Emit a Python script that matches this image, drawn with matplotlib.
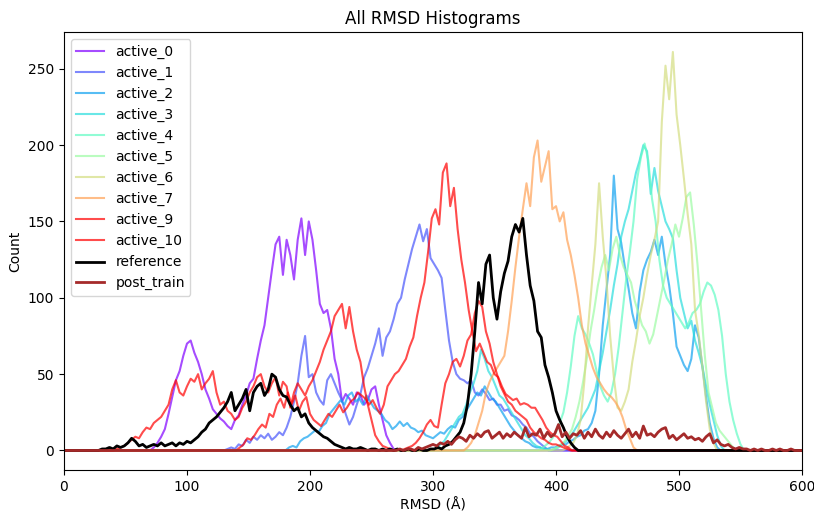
import numpy as np
import matplotlib
matplotlib.use("Agg")
import matplotlib.pyplot as plt

# bin spacing (Å) used to read the curves
STEP = 3

# first RMSD value (Å) of each series, counts read at STEP spacing
active_0_start = 70
active_0 = [0, 2, 5, 9, 14, 24, 35, 46, 52, 62, 70, 72, 64, 58, 50, 40, 34, 27, 24, 21,
            19, 16, 14, 20, 23, 30, 36, 44, 47, 60, 72, 82, 100, 118, 135, 140, 115, 138, 128, 112,
            138, 152, 128, 150, 138, 118, 96, 90, 92, 80, 60, 50, 32, 37, 34, 30, 38, 36, 30, 33,
            40, 42, 30, 20, 10, 5, 1, 0]

active_1_start = 130
active_1 = [0, 1, 2, 1, 4, 3, 7, 5, 9, 7, 10, 8, 11, 7, 9, 12, 10, 15, 22, 32,
            44, 62, 75, 48, 50, 38, 33, 30, 46, 50, 44, 38, 33, 24, 17, 22, 30, 37, 48, 54,
            62, 70, 80, 62, 74, 78, 86, 96, 100, 112, 122, 132, 140, 148, 137, 145, 126, 122, 118, 113,
            92, 72, 58, 50, 47, 46, 44, 46, 38, 36, 40, 37, 33, 34, 30, 30, 26, 27, 23, 22,
            20, 17, 15, 11, 9, 6, 4, 2, 0]

active_2_start = 180
active_2 = [0, 2, 3, 2, 6, 8, 9, 11, 13, 12, 16, 18, 24, 27, 30, 33, 30, 36, 38, 32,
            34, 30, 36, 32, 28, 26, 24, 20, 18, 14, 16, 19, 16, 18, 15, 14, 12, 13, 10, 9,
            8, 10, 12, 11, 14, 16, 15, 20, 22, 26, 30, 34, 38, 36, 42, 38, 34, 32, 28, 24,
            20, 16, 13, 10, 8, 6, 5, 3, 2, 2, 1, 1, 2, 2, 3, 4, 4, 6, 7, 9,
            10, 13, 14, 18, 26, 50, 82, 105, 128, 180, 145, 136, 120, 106, 90, 80, 104, 118, 125, 130,
            138, 128, 140, 122, 108, 90, 68, 62, 56, 52, 60, 82, 74, 55, 35, 18, 8, 2, 0]

active_3_start = 300
active_3 = [0, 2, 4, 6, 10, 14, 18, 22, 24, 30, 38, 44, 52, 66, 60, 52, 48, 42, 36, 34,
            30, 26, 22, 18, 14, 10, 8, 5, 3, 2, 1, 1, 0, 1, 2, 4, 6, 9, 12, 16,
            20, 24, 28, 34, 40, 52, 64, 78, 92, 108, 122, 140, 150, 158, 170, 182, 190, 200, 196, 168,
            185, 170, 160, 150, 145, 139, 118, 100, 90, 80, 85, 72, 64, 55, 42, 30, 20, 10, 3, 0]

active_4_start = 385
active_4 = [0, 1, 3, 5, 8, 12, 18, 25, 38, 55, 75, 88, 80, 76, 70, 63, 52, 42, 36, 32,
            38, 50, 68, 90, 112, 130, 150, 178, 192, 201, 190, 165, 150, 125, 108, 100, 96, 92, 88, 84,
            80, 84, 90, 92, 96, 104, 110, 108, 102, 92, 75, 50, 32, 20, 11, 4, 0]

active_5_start = 395
active_5 = [0, 1, 2, 4, 6, 10, 14, 22, 32, 45, 60, 78, 92, 108, 120, 128, 118, 132, 140, 128,
            120, 115, 110, 98, 90, 82, 78, 70, 76, 88, 100, 112, 125, 135, 148, 140, 152, 166, 169, 148,
            122, 92, 62, 38, 28, 18, 13, 10, 7, 4, 1, 0]

active_6_start = 405
active_6 = [0, 1, 3, 5, 10, 20, 45, 80, 108, 135, 175, 140, 112, 75, 48, 28, 26, 32, 40, 58,
            72, 88, 100, 115, 128, 138, 150, 215, 252, 230, 261, 220, 200, 178, 155, 135, 92, 76, 55, 32,
            14, 5, 0]

active_7_start = 325
active_7 = [0, 2, 5, 10, 18, 26, 38, 45, 50, 54, 58, 62, 78, 98, 120, 140, 158, 175, 160, 192,
            203, 176, 186, 196, 158, 160, 150, 156, 138, 128, 115, 100, 82, 70, 62, 54, 48, 44, 40, 37,
            35, 32, 28, 22, 14, 8, 2, 0]

active_9_start = 40
active_9 = [0, 1, 2, 3, 5, 7, 9, 8, 12, 15, 14, 18, 20, 22, 26, 30, 40, 46, 38, 36,
            42, 47, 45, 50, 40, 44, 47, 52, 38, 30, 32, 26, 24, 20, 22, 28, 32, 38, 42, 48,
            50, 42, 38, 44, 48, 36, 45, 42, 28, 38, 44, 40, 36, 42, 46, 52, 58, 66, 72, 78,
            88, 92, 96, 80, 94, 78, 66, 58, 42, 30, 20, 10, 6, 3, 2, 1, 0, 1, 0, 1,
            2, 3, 5, 8, 12, 17, 20, 16, 15, 30, 44, 50, 58, 60, 55, 62, 72, 76, 90, 98,
            94, 78, 70, 58, 50, 42, 37, 32, 30, 26, 24, 22, 20, 15, 12, 10, 8, 7, 5, 4,
            4, 3, 2, 1, 0]

active_10_start = 140
active_10 = [0, 2, 4, 8, 7, 10, 14, 17, 15, 24, 22, 30, 34, 28, 38, 30, 36, 26, 32, 35,
             24, 20, 18, 16, 20, 24, 22, 26, 30, 25, 28, 32, 34, 38, 36, 34, 30, 33, 28, 24,
             30, 42, 46, 50, 52, 56, 60, 68, 74, 88, 100, 110, 130, 152, 158, 148, 182, 188, 160, 172,
             145, 125, 110, 92, 78, 65, 70, 64, 58, 56, 50, 48, 42, 37, 35, 33, 34, 30, 31, 30,
             28, 28, 24, 20, 15, 12, 10, 9, 6, 3, 2, 0]

reference_start = 28
reference = [0, 1, 1, 2, 1, 3, 2, 3, 5, 8, 6, 3, 4, 2, 3, 4, 3, 5, 3, 4,
             5, 3, 5, 4, 6, 5, 7, 9, 12, 14, 18, 20, 22, 25, 28, 32, 38, 26, 30, 34,
             40, 26, 38, 42, 44, 36, 40, 50, 48, 40, 36, 35, 30, 26, 28, 22, 24, 18, 15, 13,
             11, 9, 8, 6, 4, 3, 2, 1, 2, 1, 1, 2, 1, 0, 1, 1, 0, 1, 0, 1,
             0, 1, 0, 0, 1, 0, 0, 1, 0, 0, 1, 1, 2, 1, 3, 4, 6, 9, 12, 18,
             30, 50, 78, 110, 96, 122, 128, 100, 86, 104, 116, 124, 140, 148, 143, 152, 128, 108, 98, 78,
             74, 56, 48, 38, 26, 20, 15, 9, 5, 2, 0]

post_train_start = 270
post_train = [0, 1, 0, 1, 1, 0, 2, 1, 2, 3, 4, 3, 5, 4, 6, 4, 7, 9, 8, 6,
              10, 8, 11, 9, 12, 13, 8, 10, 12, 8, 11, 9, 12, 10, 8, 15, 9, 11, 10, 14,
              8, 12, 9, 11, 17, 9, 12, 8, 11, 10, 13, 8, 12, 9, 14, 10, 8, 12, 9, 13,
              10, 8, 11, 14, 9, 12, 8, 16, 10, 11, 9, 12, 14, 15, 8, 10, 7, 9, 11, 8,
              9, 7, 8, 6, 9, 11, 5, 7, 4, 3, 4, 2, 1, 2, 1, 1, 0, 1, 0, 1,
              0, 0, 1, 0, 1, 0, 0, 1, 0, 0, 0]

labels = ["active_0", "active_1", "active_2", "active_3", "active_4", "active_5",
          "active_6", "active_7", "active_9", "active_10", "reference", "post_train"]
# index of each active run (used for its rainbow colour)
active_ids = [0, 1, 2, 3, 4, 5, 6, 7, 9, 10]

series = [
    (active_0_start, active_0), (active_1_start, active_1), (active_2_start, active_2),
    (active_3_start, active_3), (active_4_start, active_4), (active_5_start, active_5),
    (active_6_start, active_6), (active_7_start, active_7), (active_9_start, active_9),
    (active_10_start, active_10), (reference_start, reference), (post_train_start, post_train),
]

X_MIN, X_MAX = 0, 600

fig = plt.figure(figsize=(8.14, 5.13), dpi=100)
ax = fig.add_axes([0.0786, 0.083, 0.9853 - 0.0786, 0.9376 - 0.083])

for i, (lab, (start, vals)) in enumerate(zip(labels, series)):
    vals = np.asarray(vals, dtype=float)
    x = start + STEP * np.arange(len(vals))
    # histogram counts are zero outside the listed range
    x = np.concatenate([[X_MIN], x, [X_MAX]])
    y = np.concatenate([[0.0], vals, [0.0]])
    if lab == "reference":
        ax.plot(x, y, color="black", lw=2, label=lab)
    elif lab == "post_train":
        ax.plot(x, y, color="brown", lw=2, label=lab)
    else:
        c = plt.cm.rainbow(min(active_ids[i] / 9.0, 1.0))
        ax.plot(x, y, color=c, lw=1.5, alpha=0.7, label=lab)

ax.set_xlim(X_MIN, X_MAX)
ax.set_title("All RMSD Histograms")
ax.set_xlabel("RMSD (Å)", labelpad=3)
ax.set_ylabel("Count")
ax.legend(loc="upper left")

fig.savefig("out.png", dpi=100)
